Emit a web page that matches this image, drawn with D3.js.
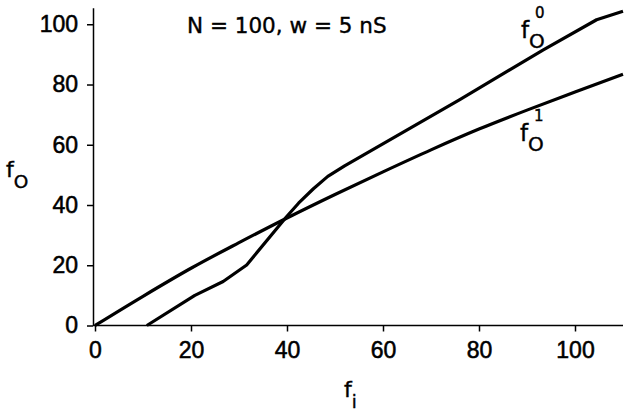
<!DOCTYPE html>
<meta charset="utf-8">
<style>

body {
  margin: 0;
  background: #fff;
}

svg {
  font-family: "DejaVu Sans", sans-serif;
}

text {
  fill: #000;
  stroke: #000;
  stroke-width: 0.4;
}

.axis path,
.axis line {
  stroke: #000;
  stroke-width: 1.5;
}

.axis text {
  font-size: 23px;
  stroke-width: 0.55;
}

.curve {
  fill: none;
  stroke: #000;
  stroke-width: 3.2;
  stroke-linejoin: round;
}

</style>
<body>
<script src="https://d3js.org/d3.v7.min.js"></script>
<script>

// output rate f_o^0 (upper at the right end)
var f0X = [10.8, 20.8, 26.7, 31.6, 39.9, 42.4, 45.5, 48.5, 52, 76, 93.4, 104.5, 110];
var f0Y = [0, 10, 14.6, 20.1, 36.1, 40.6, 45.4, 49.5, 53, 75, 91.5, 101.5, 104.3];

// output rate f_o^1
var f1X = [0, 10, 20, 30, 40, 50, 60, 70, 80, 90, 100, 110];
var f1Y = [0, 9.7, 19, 27.5, 35.7, 43.5, 51, 58.3, 65.2, 71.5, 77.5, 83.4];

var xTicks = [0, 20, 40, 60, 80, 100];
var yTicks = [0, 20, 40, 60, 80, 100];

var width = 624,
    height = 414;

var x = d3.scaleLinear()
    .domain([0, 110])
    .range([95, 623]);

var y = d3.scaleLinear()
    .domain([0, 105.5])
    .range([325.5, 7.7]);

var svg = d3.select("body").append("svg")
    .attr("width", width)
    .attr("height", height);

// x axis
var gx = svg.append("g")
    .attr("class", "axis")
    .attr("transform", "translate(0," + y(0) + ")")
    .call(d3.axisBottom(x)
      .tickValues(xTicks)
      .tickSize(6)
      .tickSizeOuter(0)
      .tickPadding(10)
      .tickFormat(d3.format("d")));
gx.select(".domain").remove();
gx.append("line")
    .attr("x1", x(0) - 2)
    .attr("x2", x.range()[1])
    .attr("stroke", "#000")
    .attr("stroke-width", 1.5);

// y axis, sits slightly left of x = 0
var gy = svg.append("g")
    .attr("class", "axis")
    .attr("transform", "translate(" + (x(0) - 2) + ",0)")
    .call(d3.axisLeft(y)
      .tickValues(yTicks)
      .tickSize(6)
      .tickSizeOuter(0)
      .tickPadding(9)
      .tickFormat(d3.format("d")));

// curves
var line = d3.line()
    .x(function(d) { return x(d[0]); })
    .y(function(d) { return y(d[1]); });

svg.append("path")
    .datum(f0X.map(function(v, i) { return [v, f0Y[i]]; }))
    .attr("class", "curve")
    .attr("d", line);

svg.append("path")
    .datum(f1X.map(function(v, i) { return [v, f1Y[i]]; }))
    .attr("class", "curve")
    .attr("d", line.curve(d3.curveMonotoneX));

// title
svg.append("text")
    .attr("x", 187)
    .attr("y", 33)
    .attr("font-size", "21.5px")
    .text("N = 100, w = 5 nS");

// axis labels
var yl = svg.append("text")
    .attr("x", 6)
    .attr("y", 177)
    .attr("font-size", "22px");
yl.append("tspan").text("f");
yl.append("tspan").attr("dy", 11).attr("font-size", "18.5px").text("O");

var xl = svg.append("text")
    .attr("x", 344)
    .attr("y", 397)
    .attr("font-size", "22px");
xl.append("tspan").text("f");
xl.append("tspan").attr("dy", 11).attr("font-size", "18px").text("i");

// curve labels
function curveLabel(px, py, sup) {
  var t = svg.append("text")
      .attr("x", px)
      .attr("y", py)
      .attr("font-size", "23px");
  t.append("tspan").text("f");
  t.append("tspan").attr("dy", 10).attr("font-size", "20px").text("O");
  t.append("tspan")
      .attr("x", px + 14)
      .attr("dy", -30)
      .attr("font-size", "15px")
      .text(sup);
}
curveLabel(521, 38, "0");
curveLabel(520, 141, "1");

</script>
